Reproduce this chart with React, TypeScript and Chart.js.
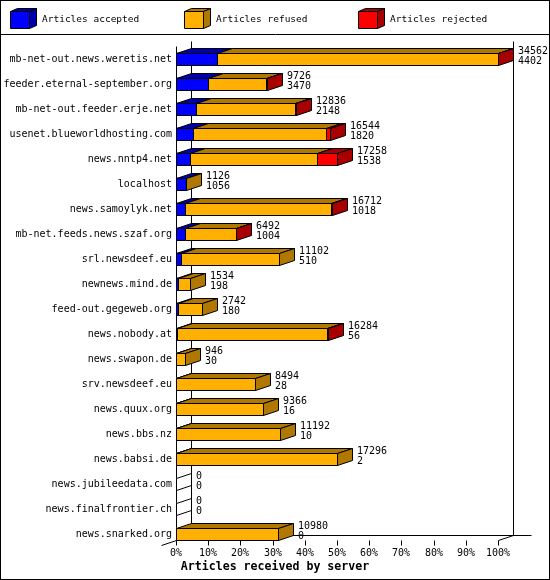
import { useEffect, useRef } from 'react';
import { Chart, registerables } from 'chart.js';

Chart.register(...registerables);

// Articles received per peer server
const servers = [
  'mb-net-out.news.weretis.net',
  'feeder.eternal-september.org',
  'mb-net-out.feeder.erje.net',
  'usenet.blueworldhosting.com',
  'news.nntp4.net',
  'localhost',
  'news.samoylyk.net',
  'mb-net.feeds.news.szaf.org',
  'srl.newsdeef.eu',
  'newnews.mind.de',
  'feed-out.gegeweb.org',
  'news.nobody.at',
  'news.swapon.de',
  'srv.newsdeef.eu',
  'news.quux.org',
  'news.bbs.nz',
  'news.babsi.de',
  'news.jubileedata.com',
  'news.finalfrontier.ch',
  'news.snarked.org',
];

const accepted = [4402, 3470, 2148, 1820, 1538, 1056, 1018, 1004, 510, 198, 180, 56, 30, 28, 16, 10, 2, 0, 0, 0];
const refused = [30120, 6196, 10648, 14294, 13570, 70, 15664, 5428, 10592, 1336, 2562, 16198, 916, 8466, 9350, 11182, 17294, 0, 0, 10980];
const rejected = [40, 60, 40, 430, 2150, 0, 30, 60, 0, 0, 0, 30, 0, 0, 0, 0, 0, 0, 0, 0];

const seriesNames = ['Articles accepted', 'Articles refused', 'Articles rejected'];
const percentTicks = ['0%', '10%', '20%', '30%', '40%', '50%', '60%', '70%', '80%', '90%', '100%'];
const axisTitle = 'Articles received by server';

const series = [accepted, refused, rejected];
const totals = servers.map((_, i) => accepted[i] + refused[i] + rejected[i]);
const maxTotal = Math.max(...totals);

const FRONT = ['#0000ff', '#ffb000', '#ff0000'];
const SHADE = ['#0000a8', '#b07800', '#a80000'];
const MONO = "'DejaVu Sans Mono', 'Liberation Mono', monospace";
const DX = 15;
const DY = 5;
const BAR_H = 12;

function poly(ctx: CanvasRenderingContext2D, pts: number[][], fill: string | null) {
  ctx.beginPath();
  pts.forEach(([x, y], k) => (k === 0 ? ctx.moveTo(x + 0.5, y + 0.5) : ctx.lineTo(x + 0.5, y + 0.5)));
  ctx.closePath();
  if (fill) {
    ctx.fillStyle = fill;
    ctx.fill();
  }
  ctx.strokeStyle = '#000';
  ctx.lineWidth = 1;
  ctx.stroke();
}

function line(ctx: CanvasRenderingContext2D, x1: number, y1: number, x2: number, y2: number) {
  ctx.beginPath();
  ctx.moveTo(x1 + 0.5, y1 + 0.5);
  ctx.lineTo(x2 + 0.5, y2 + 0.5);
  ctx.strokeStyle = '#000';
  ctx.lineWidth = 1;
  ctx.stroke();
}

const box3d = {
  id: 'box3d',
  beforeDatasetsDraw(chart: any) {
    const ctx: CanvasRenderingContext2D = chart.ctx;
    const xs = chart.scales.x;
    const ys = chart.scales.y;
    const left = Math.round(xs.getPixelForValue(0));
    const right = Math.round(xs.getPixelForValue(maxTotal));
    const floor = Math.round(ys.getPixelForValue(servers.length - 1) + BAR_H / 2);
    const top = Math.round(chart.chartArea.top) - 6;
    ctx.save();
    // walls and floor
    line(ctx, left, top + DY, left, floor);
    line(ctx, left + DX, top, left + DX, floor - DY);
    line(ctx, right + DX, top, right + DX, floor - DY);
    line(ctx, left, floor - DY, right + DX + 18, floor - DY);
    line(ctx, right, floor, right + DX, floor - DY);
    line(ctx, left - DX, floor + DY, left, floor);
    // percent ticks
    ctx.font = `10px ${MONO}`;
    ctx.fillStyle = '#000';
    ctx.textAlign = 'center';
    ctx.textBaseline = 'middle';
    percentTicks.forEach((t, k) => {
      const x = Math.round(xs.getPixelForValue((maxTotal * k) / 10));
      line(ctx, x, floor, x, floor + DY);
      ctx.fillText(t, x, floor + 13);
    });
    ctx.font = `bold 11.6px ${MONO}`;
    ctx.fillText(axisTitle, chart.width / 2, floor + 27);
    ctx.restore();
  },
  afterDatasetsDraw(chart: any) {
    const ctx: CanvasRenderingContext2D = chart.ctx;
    const xs = chart.scales.x;
    const zero = Math.round(xs.getPixelForValue(0));
    ctx.save();
    servers.forEach((_, i) => {
      let cy = 0;
      let end = zero;
      let last = -1;
      series.forEach((vals, d) => {
        const el = chart.getDatasetMeta(d).data[i];
        const p = el.getProps(['x', 'y', 'base'], true);
        cy = Math.round(p.y);
        if (vals[i] > 0) {
          last = d;
          end = Math.round(p.x);
        }
      });
      const t = cy - BAR_H / 2;
      const b = cy + BAR_H / 2;
      series.forEach((vals, d) => {
        if (vals[i] <= 0) return;
        const el = chart.getDatasetMeta(d).data[i];
        const p = el.getProps(['x', 'base'], true);
        const a = Math.round(p.base);
        const e = Math.round(p.x);
        poly(ctx, [[a, t], [e, t], [e + DX, t - DY], [a + DX, t - DY]], SHADE[d]);
        poly(ctx, [[a, t], [e, t], [e, b], [a, b]], FRONT[d]);
      });
      poly(ctx, [[end, t], [end + DX, t - DY], [end + DX, b - DY], [end, b]], last >= 0 ? SHADE[last] : '#fff');
      ctx.font = `10px ${MONO}`;
      ctx.fillStyle = '#000';
      ctx.textAlign = 'left';
      ctx.textBaseline = 'middle';
      ctx.fillText(String(totals[i]), end + DX + 5, cy - 8);
      ctx.fillText(String(accepted[i]), end + DX + 5, cy + 2);
    });
    ctx.restore();
  },
  afterDraw(chart: any) {
    const ctx: CanvasRenderingContext2D = chart.ctx;
    ctx.save();
    // frame and legend strip
    ctx.strokeStyle = '#000';
    ctx.lineWidth = 1;
    ctx.strokeRect(0.5, 0.5, chart.width - 1, chart.height - 1);
    line(ctx, 0, 34, chart.width, 34);
    const legendX = [10, 184, 358];
    chart.data.datasets.forEach((ds: any, d: number) => {
      const x = legendX[d];
      poly(ctx, [[x, 11], [x + 19, 11], [x + 26, 8], [x + 7, 8]], SHADE[d]);
      poly(ctx, [[x + 19, 11], [x + 26, 8], [x + 26, 25], [x + 19, 28]], SHADE[d]);
      poly(ctx, [[x, 11], [x + 19, 11], [x + 19, 28], [x, 28]], FRONT[d]);
      ctx.font = `9.5px ${MONO}`;
      ctx.fillStyle = '#000';
      ctx.textAlign = 'left';
      ctx.textBaseline = 'middle';
      ctx.fillText(ds.label, x + 32, 20);
    });
    ctx.restore();
  },
};

export default function App() {
  const ref = useRef<HTMLCanvasElement>(null);
  useEffect(() => {
    document.body.style.margin = '0';
    const chart = new Chart(ref.current!, {
      type: 'bar',
      data: {
        labels: servers,
        datasets: series.map((vals, d) => ({
          label: seriesNames[d],
          data: vals,
          backgroundColor: FRONT[d],
          borderWidth: 0,
          barThickness: BAR_H,
        })),
      },
      options: {
        indexAxis: 'y',
        responsive: false,
        animation: false,
        devicePixelRatio: 1,
        layout: { padding: { top: 46.5, bottom: 33.5, left: 0, right: 52 } },
        plugins: { legend: { display: false }, tooltip: { enabled: false } },
        scales: {
          x: { stacked: true, min: 0, max: maxTotal, display: false },
          y: {
            stacked: true,
            grid: { display: false, drawTicks: false },
            border: { display: false },
            ticks: { autoSkip: false, padding: 4, color: '#000', font: { family: MONO, size: 10 } },
            afterFit: (s: any) => {
              s.width = 176;
            },
          },
        },
      },
      plugins: [box3d],
    } as any);
    return () => chart.destroy();
  }, []);
  return (
    <div style={{ width: 550, height: 580, background: '#fff' }}>
      <canvas ref={ref} width={550} height={580} style={{ display: 'block' }} />
    </div>
  );
}
